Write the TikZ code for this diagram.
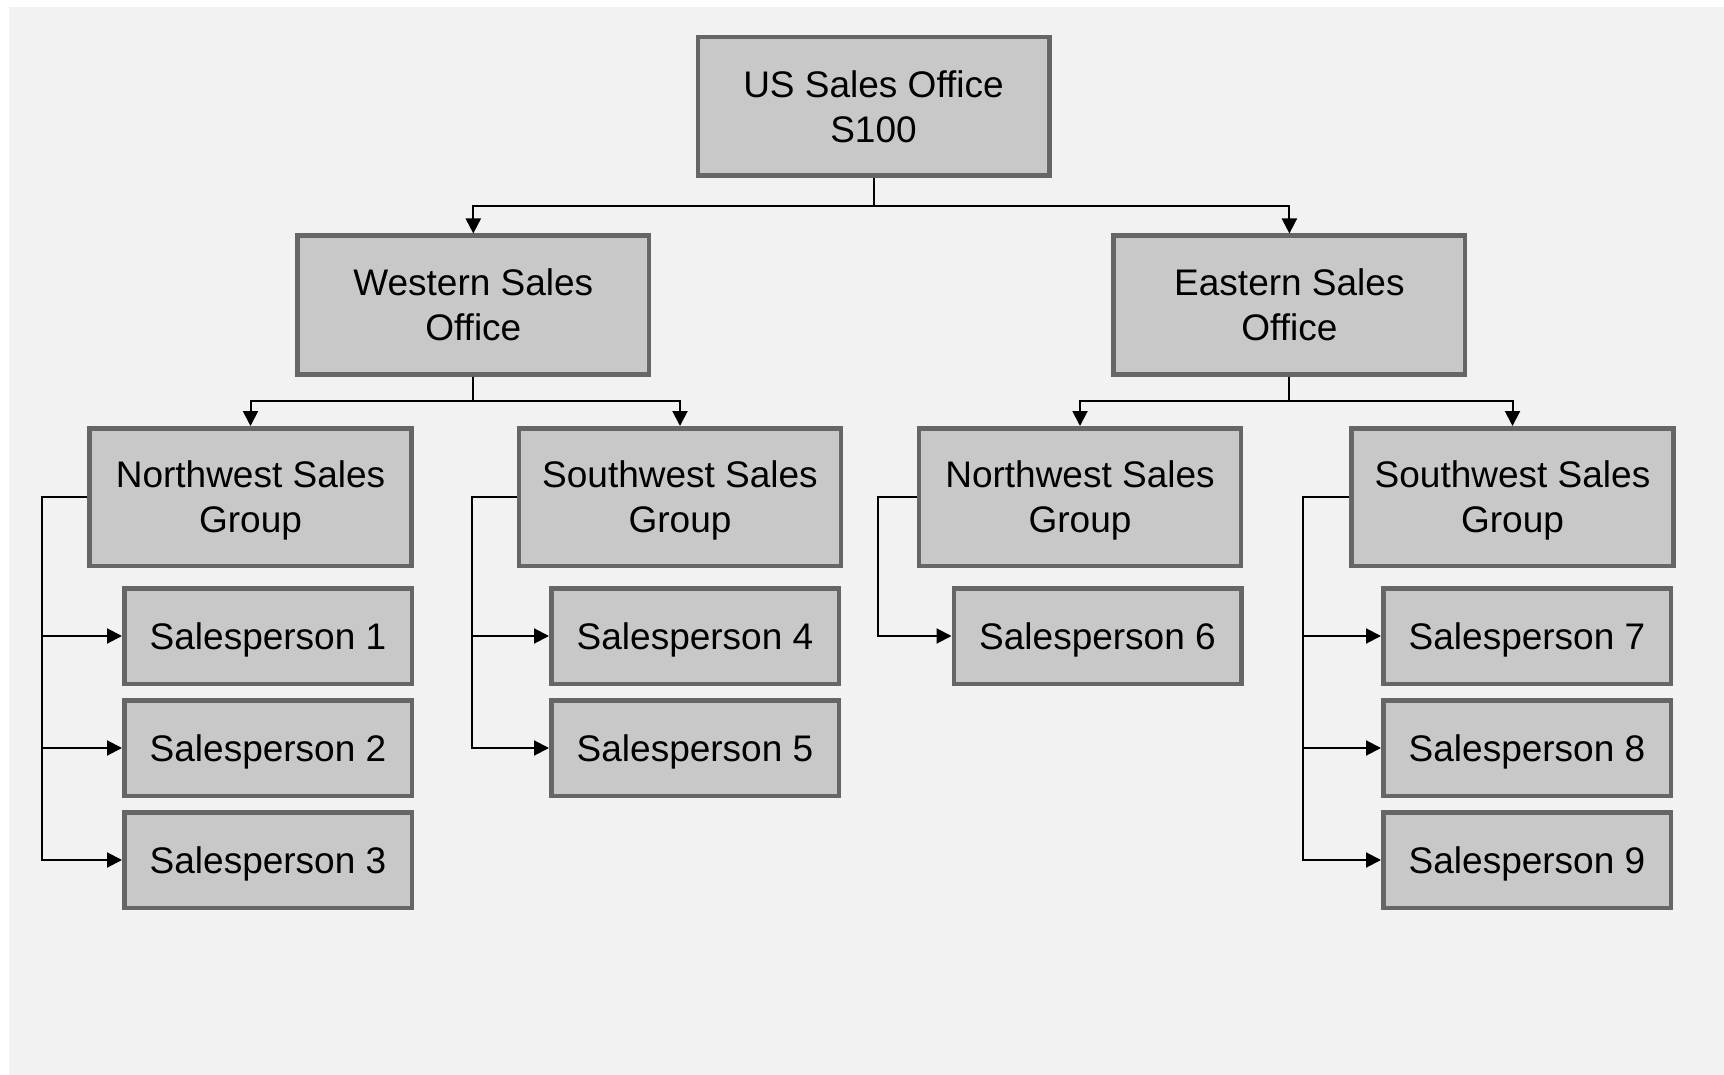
\documentclass[tikz,border=0pt]{standalone}
\usepackage{fontspec}
\setmainfont{Liberation Sans}
\usetikzlibrary{arrows.meta}
\definecolor{panel}{RGB}{242,242,242}
\definecolor{boxfill}{RGB}{200,200,200}
\definecolor{boxline}{RGB}{102,102,102}
\begin{document}
\begin{tikzpicture}[x=1pt,y=-1pt,
  box/.style={draw=boxline,fill=boxfill,line width=4.5pt,rectangle,inner sep=0pt,
    align=center,text depth=0pt,font=\fontsize{37}{45}\selectfont},
  office/.style={box,minimum width=351.5pt,minimum height=138.5pt},
  group/.style={box,minimum width=322pt,minimum height=137.5pt},
  person/.style={box,minimum width=287.5pt,minimum height=95.5pt},
  arr/.style={draw=black,line width=2pt,-{Triangle[length=15pt,width=15pt]}}]
  % page and panel
  \useasboundingbox (0,0) rectangle (1724,1075);
  \fill[white] (0,0) rectangle (1724,1075);
  \fill[panel] (9,7) rectangle (1724,1075);

  % top level
  \node[office] (us) at (873.5,106.5) {US Sales Office\\S100};
  \node[office] (west) at (473.3,305) {Western Sales\\Office};
  \node[office] (east) at (1289.4,305) {Eastern Sales\\Office};

  % groups
  \node[group] (nw1) at (250.5,497) {Northwest Sales\\Group};
  \node[group] (sw1) at (680,497) {Southwest Sales\\Group};
  \node[group] (nw2) at (1080,497) {Northwest Sales\\Group};
  \node[group] (sw2) at (1512.5,497) {Southwest Sales\\Group};

  % salespeople
  \node[person] (sp1) at (268,636) {Salesperson 1};
  \node[person] (sp2) at (268,748) {Salesperson 2};
  \node[person] (sp3) at (268,860) {Salesperson 3};
  \node[person] (sp4) at (695,636) {Salesperson 4};
  \node[person] (sp5) at (695,748) {Salesperson 5};
  \node[person] (sp6) at (1097.5,636) {Salesperson 6};
  \node[person] (sp7) at (1527,636) {Salesperson 7};
  \node[person] (sp8) at (1527,748) {Salesperson 8};
  \node[person] (sp9) at (1527,860) {Salesperson 9};

  % bus lines and riser columns
  \coordinate (busA) at (0,206);
  \coordinate (busB) at (0,401);
  \coordinate (v1) at (42,0);
  \coordinate (v2) at (472,0);
  \coordinate (v3) at (878,0);
  \coordinate (v4) at (1303,0);

  % office connectors
  \draw[arr] (us.south) -- (us.south |- busA) -| (west.north);
  \draw[arr] (us.south) -- (us.south |- busA) -| (east.north);
  \draw[arr] (west.south) -- (west.south |- busB) -| (nw1.north);
  \draw[arr] (west.south) -- (west.south |- busB) -| (sw1.north);
  \draw[arr] (east.south) -- (east.south |- busB) -| (nw2.north);
  \draw[arr] (east.south) -- (east.south |- busB) -| (sw2.north);

  % group to salesperson connectors
  \foreach \g/\v/\p in {nw1/v1/sp1,nw1/v1/sp2,nw1/v1/sp3,sw1/v2/sp4,sw1/v2/sp5,
                        nw2/v3/sp6,sw2/v4/sp7,sw2/v4/sp8,sw2/v4/sp9}
    \draw[arr] (\g.west) -- (\g.west -| \v) |- (\p.west);
\end{tikzpicture}
\end{document}
